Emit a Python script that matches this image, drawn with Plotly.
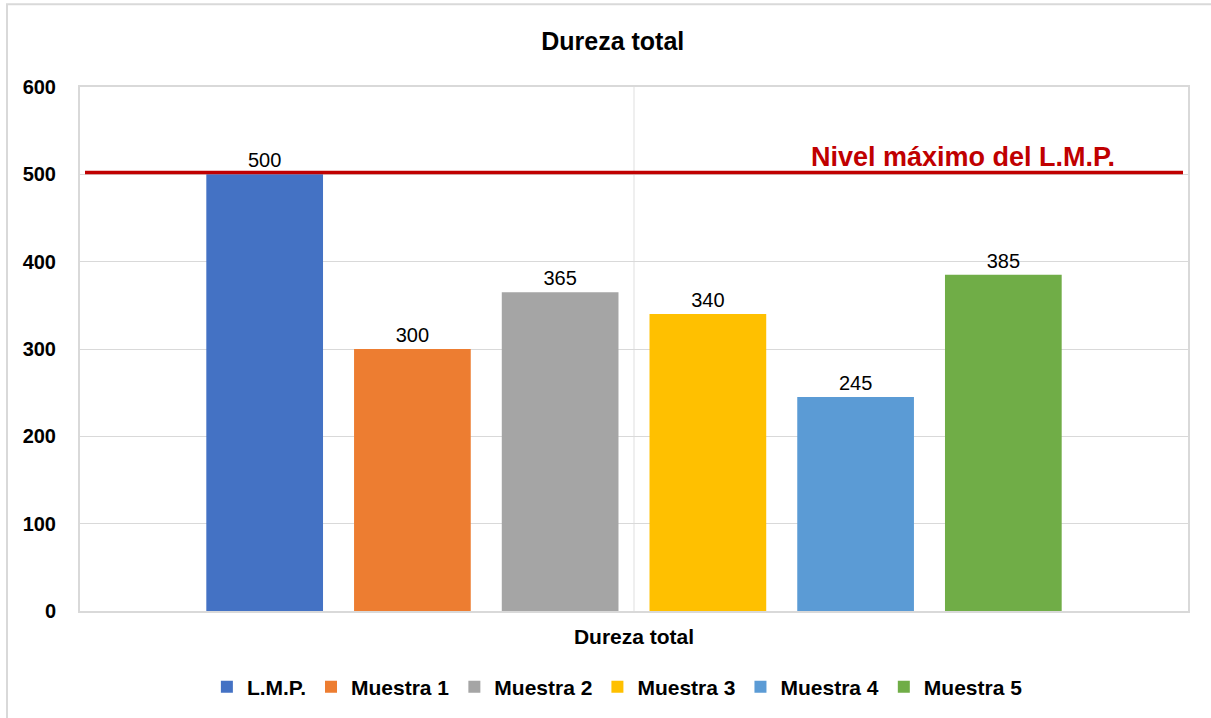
import plotly.graph_objects as go

category = ["Dureza total"]
series_names = ["L.M.P.", "Muestra 1", "Muestra 2", "Muestra 3", "Muestra 4", "Muestra 5"]
series_values = [500, 300, 365, 340, 245, 385]
series_colors = ["#4472C4", "#ED7D31", "#A5A5A5", "#FFC000", "#5B9BD5", "#70AD47"]
limit_value = 502
limit_label = "Nivel máximo del L.M.P."
y_ticks = [0, 100, 200, 300, 400, 500, 600]

FONT = "Liberation Sans, Arial, sans-serif"

fig = go.Figure()
for name, val, col in zip(series_names, series_values, series_colors):
    fig.add_trace(go.Bar(
        name=name, x=category, y=[val],
        marker=dict(color=col, line=dict(width=0)),
        text=[str(val)], textposition="outside",
        textfont=dict(family=FONT, size=20, color="#000000"),
        cliponaxis=False,
    ))

W0, H0 = 1108.0, 525.0
fig.update_layout(
    width=1211, height=718,
    margin=dict(l=80, r=23, t=87, b=106),
    paper_bgcolor="white", plot_bgcolor="white",
    barmode="group", bargap=0.2, bargroupgap=0.21,
    title=dict(text="<b>Dureza total</b>", x=0.506, xanchor="center",
               y=1 - 41 / 718, yanchor="middle",
               font=dict(family=FONT, size=25, color="#000000")),
    font=dict(family=FONT, color="#000000"),
    showlegend=True,
    legend=dict(orientation="h", x=0.485, xanchor="center",
                y=(612 - 687) / H0, yanchor="middle",
                font=dict(family=FONT, size=21, color="#000000", weight="bold"),
                itemwidth=30, bgcolor="rgba(0,0,0,0)"),
    xaxis=dict(showgrid=False, showline=True, mirror=True, linecolor="#D9D9D9",
               linewidth=2, ticks="", tickfont=dict(family=FONT, size=21, weight="bold"),
               ticklabelstandoff=6),
    yaxis=dict(range=[0, 600], tickvals=y_ticks, showgrid=True, gridcolor="#D9D9D9",
               gridwidth=1.3, showline=True, mirror=True, linecolor="#D9D9D9", linewidth=2,
               zeroline=False, ticks="",
               tickfont=dict(family=FONT, size=20, weight="bold"), ticklabelstandoff=18),
)

# vertical faint line in middle of plot area
fig.add_shape(type="line", xref="paper", yref="paper", x0=0.5, x1=0.5, y0=0, y1=1,
              line=dict(color="#EFEFEF", width=2), layer="below")
# limit line
fig.add_shape(type="line", xref="paper", yref="y", x0=(85 - 80) / W0, x1=(1183 - 80) / W0,
              y0=limit_value, y1=limit_value, line=dict(color="#C00000", width=3.5))
fig.add_annotation(text="<b>" + limit_label + "</b>", xref="paper", yref="y",
                   x=(963 - 80) / W0, y=520, xanchor="center", yanchor="middle",
                   showarrow=False, font=dict(family=FONT, size=27, color="#C00000"))
# outer chart border
fig.add_shape(type="rect", xref="paper", yref="paper",
              x0=(7 - 80) / W0, x1=(1216 - 80) / W0,
              y0=(612 - 724) / H0, y1=(612 - 4) / H0,
              line=dict(color="#D9D9D9", width=2), layer="below")

fig.write_html("out.html", config={"displayModeBar": False},
               post_script="document.body.style.margin='0';document.body.style.overflow='hidden';")
